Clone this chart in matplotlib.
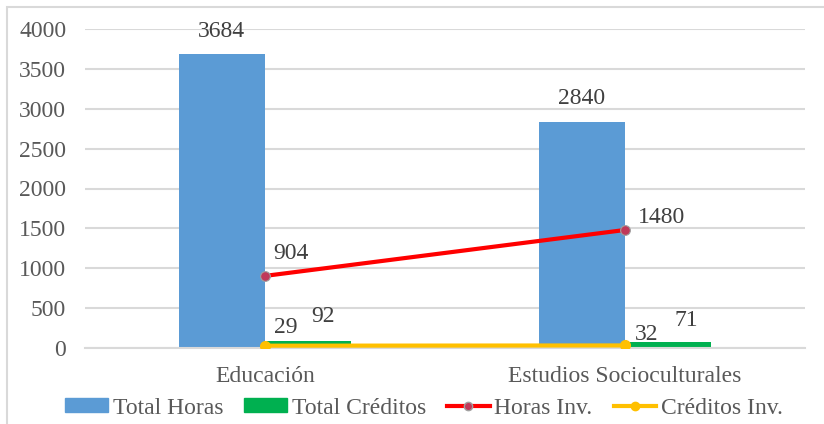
import numpy as np
import matplotlib.pyplot as plt
from matplotlib.patches import Patch, Rectangle
from matplotlib.lines import Line2D

# data
categories = ['Educación', 'Estudios Socioculturales']
total_horas = [3684, 2840]
total_creditos = [92, 71]
horas_inv = [904, 1480]
creditos_inv = [29, 32]

plt.rcParams['font.family'] = ['Liberation Serif', 'DejaVu Serif']
text_col = '#595959'
grid_col = '#d9d9d9'
blue = '#5b9bd5'
green = '#00b050'
red = '#ff0000'
yellow = '#ffc000'

fig = plt.figure(figsize=(8.24, 4.24), dpi=100)
ax = fig.add_axes([85/824, 76/424, 720/824, 319/424])

x = np.arange(len(categories))
w = 0.24
ax.bar(x - w, total_horas, width=w, align='edge', color=blue, zorder=2)
ax.bar(x, total_creditos, width=w, align='edge', color=green, zorder=2)
ax.plot(x, horas_inv, color=red, lw=3, marker='o', ms=7,
        mfc='#c0395a', mec='#a0a0a0', mew=0.8, zorder=4)
ax.plot(x, creditos_inv, color=yellow, lw=3, marker='o', ms=7,
        mfc=yellow, mec=yellow, zorder=4)

ax.set_xlim(-0.5, 1.5)
ax.set_ylim(0, 4000)
ax.set_yticks(np.arange(0, 4001, 500))
ax.set_xticks(x)
ax.set_xticklabels(categories)
ax.grid(axis='y', color=grid_col, lw=1.5, zorder=0)
ax.set_axisbelow(True)
for s in ['top', 'right', 'left']:
    ax.spines[s].set_visible(False)
ax.spines['bottom'].set_color(grid_col)
ax.spines['bottom'].set_linewidth(1.5)

fs = 17
ax.tick_params(axis='both', length=0, labelsize=fs, colors=text_col)
ax.tick_params(axis='y', pad=13.5)
ax.tick_params(axis='x', pad=13)

# bar labels
for i, v in enumerate(total_horas):
    ax.annotate(str(v), (x[i] - w/2, v), xytext=(0, 23), textcoords='offset pixels',
                ha='center', va='center', fontsize=fs, color='#404040')
green_off = [(15, 24), (18, 22)]
for i, v in enumerate(total_creditos):
    ax.annotate(str(v), (x[i] + w/2, v), xytext=green_off[i], textcoords='offset pixels',
                ha='center', va='center', fontsize=fs, color='#404040')
red_off = [(26, 22), (37, 12)]
for i, v in enumerate(horas_inv):
    ax.annotate(str(v), (x[i], v), xytext=red_off[i], textcoords='offset pixels',
                ha='center', va='center', fontsize=fs, color='#404040')
yel_off = [(21, 18), (22, 11)]
for i, v in enumerate(creditos_inv):
    ax.annotate(str(v), (x[i], v), xytext=yel_off[i], textcoords='offset pixels',
                ha='center', va='center', fontsize=fs, color='#404040')

handles = [
    Patch(color=blue, label='Total Horas'),
    Patch(color=green, label='Total Créditos'),
    Line2D([], [], color=red, lw=3, marker='o', ms=6, mfc='#c0395a', mec='#a0a0a0',
           label='Horas Inv.'),
    Line2D([], [], color=yellow, lw=3, marker='o', ms=6, mfc=yellow, mec=yellow,
           label='Créditos Inv.'),
]
fig.legend(handles=handles, loc='center', bbox_to_anchor=(424/824, 1 - 408/424),
           ncol=4, frameon=False, fontsize=fs, labelcolor=text_col,
           handlelength=1.8, handleheight=0.55, handletextpad=0.2, columnspacing=0.9)

# chart area border
fig.patches.append(Rectangle((7/824, -0.05), 1.1, 1 - 7/424 + 0.05, transform=fig.transFigure,
                             fill=False, ec='#d9d9d9', lw=1.5))

fig.savefig('out.png', dpi=100)
